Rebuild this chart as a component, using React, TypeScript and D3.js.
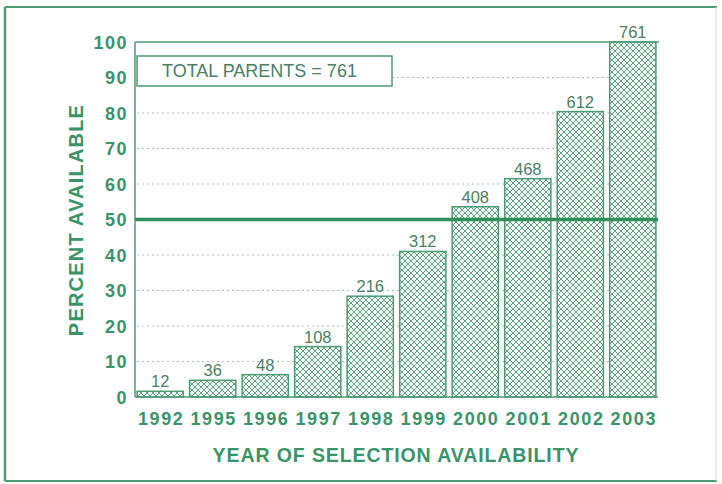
import React from "react";
import * as d3 from "d3";

const years = ["1992", "1995", "1996", "1997", "1998", "1999", "2000", "2001", "2002", "2003"];
const counts = [12, 36, 48, 108, 216, 312, 408, 468, 612, 761];
const percents = [1.6, 4.7, 6.3, 14.2, 28.4, 41.0, 53.6, 61.5, 80.4, 100];
const yTicks = [0, 10, 20, 30, 40, 50, 60, 70, 80, 90, 100];
const gridTicks = [10, 20, 30, 40, 60, 70, 80, 90];
const referenceValue = 50;
const legendText = "TOTAL PARENTS = 761";

const GREEN = "#2f8f5c";
const LINE = "#4c9c72";
const TEXT = "#3a9467";
const LABEL = "#4a7f63";
const FONT = "'Liberation Sans', Arial, Helvetica, sans-serif";

export default function App() {
  const W = 722, H = 484;
  const left = 135, right = 658, top = 42, bottom = 397;
  const x = d3.scaleBand<string>().domain(years).range([left, right]).paddingInner(0.12).paddingOuter(0.04);
  const y = d3.scaleLinear().domain([0, 100]).range([bottom, top]);

  return (
    <svg width={W} height={H} style={{ position: "absolute", left: 0, top: 0, background: "#fff" }}>
      <defs>
        <pattern id="hatch" width={6} height={6} patternUnits="userSpaceOnUse">
          <rect width={6} height={6} fill="#f3faf5" />
          <path d="M0,0 L6,6 M6,0 L0,6 M-1,5 L1,7 M5,-1 L7,1 M-1,1 L1,-1 M5,7 L7,5" stroke="#4f9a72" strokeWidth={0.9} />
        </pattern>
      </defs>
      {/* outer frame */}
      <line x1={5} y1={7} x2={717} y2={7} stroke={LINE} strokeWidth={2} />
      <line x1={5} y1={7} x2={5} y2={481} stroke={LINE} strokeWidth={2.5} />
      <line x1={5} y1={481} x2={717} y2={481} stroke={LINE} strokeWidth={2} />
      <line x1={716} y1={7} x2={716} y2={481} stroke="#cfe6d9" strokeWidth={1} />

      {/* grid */}
      {gridTicks.map((t) => (
        <line key={t} x1={left + 2} x2={right} y1={y(t)} y2={y(t)} stroke="#a9c2b4" strokeWidth={1} strokeDasharray="2,3" />
      ))}

      {/* legend box */}
      <rect x={137} y={56} width={255} height={30} fill="#fff" stroke={LINE} strokeWidth={1.5} />
      <text x={162} y={77} fontFamily={FONT} fontSize={18} fill={LABEL}>{legendText}</text>

      {/* bars */}
      {years.map((yr, i) => (
        <g key={yr}>
          <rect x={x(yr)} y={y(percents[i])} width={x.bandwidth()} height={bottom - y(percents[i])}
            fill="url(#hatch)" stroke={LINE} strokeWidth={1.5} />
          <text x={(x(yr) as number) + x.bandwidth() / 2} y={y(percents[i]) - 4} textAnchor="middle"
            fontFamily={FONT} fontSize={16.5} fill={LABEL}>{counts[i]}</text>
        </g>
      ))}

      {/* axes */}
      <line x1={left} y1={top} x2={right + 1} y2={top} stroke={LINE} strokeWidth={1.5} />
      <line x1={left} y1={top} x2={left} y2={bottom} stroke={LINE} strokeWidth={1.5} />
      <line x1={left} y1={bottom} x2={right} y2={bottom} stroke={LINE} strokeWidth={1.5} />
      <line x1={left} y1={y(referenceValue)} x2={right} y2={y(referenceValue)} stroke={GREEN} strokeWidth={3.5} />

      {yTicks.map((t) => (
        <text key={t} x={128} y={y(t) + 6.5} textAnchor="end" fontFamily={FONT} fontWeight="bold" fontSize={18} letterSpacing={1.5} fill={TEXT}>{t}</text>
      ))}
      {years.map((yr) => (
        <text key={yr} x={(x(yr) as number) + x.bandwidth() / 2 + 1} y={425} textAnchor="middle"
          fontFamily={FONT} fontWeight="bold" fontSize={18} letterSpacing={1.6} fill={TEXT}>{yr}</text>
      ))}
      <text transform={`translate(83,${220}) rotate(-90)`} textAnchor="middle"
        fontFamily={FONT} fontWeight="bold" fontSize={20} fill={TEXT} letterSpacing={1.2}>PERCENT AVAILABLE</text>
      <text x={396} y={462} textAnchor="middle" fontFamily={FONT} fontWeight="bold" fontSize={19.5} fill={TEXT} letterSpacing={0.9}>
        YEAR OF SELECTION AVAILABILITY
      </text>
    </svg>
  );
}
